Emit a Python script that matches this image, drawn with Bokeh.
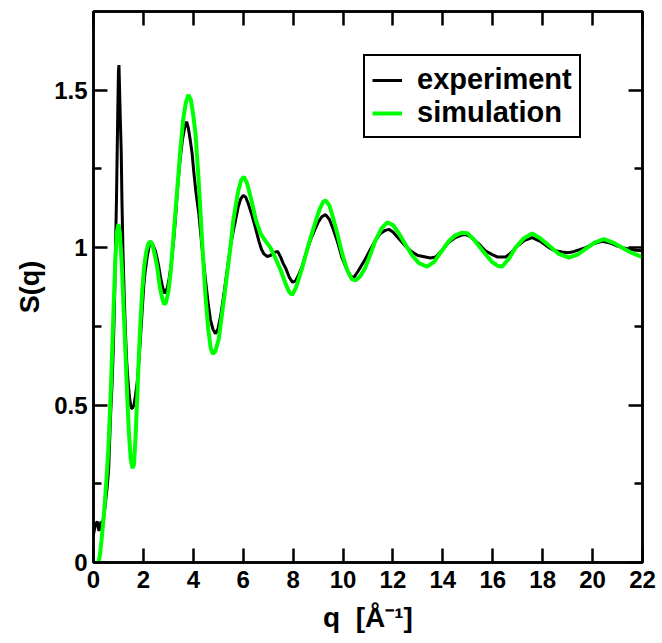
from bokeh.plotting import figure
from bokeh.models import (LinearAxis, FixedTicker, Legend, LegendItem,
                          CustomJSTickFormatter, Range1d)
from bokeh.embed import file_html
from bokeh.resources import INLINE

# ---------------- data ----------------
exp_q = [0.00, 0.08, 0.15, 0.22, 0.30, 0.35, 0.42, 0.48, 0.55, 0.61, 0.68, 0.74,
         0.79, 0.84, 0.88, 0.92, 0.95, 0.98, 1.00, 1.02, 1.04, 1.07, 1.11, 1.14,
         1.18, 1.23, 1.28, 1.33, 1.39, 1.45, 1.51, 1.56, 1.62, 1.68, 1.75, 1.82,
         1.88, 1.95, 2.02, 2.08, 2.15, 2.23, 2.31, 2.40, 2.48, 2.55, 2.62, 2.70,
         2.77, 2.85, 2.95, 3.02, 3.12, 3.22, 3.30, 3.38, 3.47, 3.56, 3.65, 3.73,
         3.80, 3.88, 3.95, 4.02, 4.10, 4.22, 4.35, 4.49, 4.60, 4.69, 4.79, 4.89,
         4.98, 5.09, 5.22, 5.36, 5.50, 5.62, 5.69, 5.80, 5.90, 6.00, 6.10, 6.20,
         6.36, 6.50, 6.63, 6.73, 6.83, 6.95, 7.09, 7.25, 7.38, 7.50, 7.60, 7.70,
         7.85, 7.98, 8.10, 8.20, 8.36, 8.55, 8.70, 8.83, 9.00, 9.15, 9.30, 9.45,
         9.60, 9.77, 9.95, 10.17, 10.30, 10.43, 10.60, 10.75, 10.90, 11.10, 11.30,
         11.50, 11.70, 11.84, 12.00, 12.24, 12.50, 12.77, 13.00, 13.31, 13.50,
         13.71, 13.95, 14.24, 14.50, 14.75, 14.90, 15.10, 15.44, 15.70, 15.98,
         16.20, 16.51, 16.75, 16.91, 17.25, 17.58, 17.90, 18.25, 18.50, 18.78,
         19.00, 19.18, 19.45, 19.72, 20.05, 20.39, 20.70, 21.00, 21.19, 21.50,
         21.75, 22.00]
exp_s = [0.09, 0.12, 0.13, 0.10, 0.13, 0.12, 0.15, 0.19, 0.24, 0.30, 0.46, 0.56,
         0.67, 0.82, 0.99, 1.15, 1.31, 1.47, 1.56, 1.58, 1.52, 1.42, 1.31, 1.15,
         0.99, 0.85, 0.73, 0.64, 0.57, 0.52, 0.49, 0.49, 0.50, 0.53, 0.57, 0.64,
         0.71, 0.80, 0.885, 0.93, 0.97, 1.005, 1.017, 1.005, 0.99, 0.965, 0.938, 0.90,
         0.875, 0.855, 0.87, 0.896, 0.95, 1.03, 1.11, 1.20, 1.28, 1.34, 1.38, 1.40,
         1.38, 1.34, 1.30, 1.24, 1.18, 1.108, 1.00, 0.896, 0.82, 0.77, 0.74, 0.727,
         0.74, 0.78, 0.85, 0.93, 1.01, 1.06, 1.086, 1.13, 1.155, 1.166, 1.16, 1.14,
         1.10, 1.06, 1.02, 0.995, 0.98, 0.972, 0.975, 0.985, 0.988, 0.97, 0.95, 0.935,
         0.905, 0.89, 0.895, 0.91, 0.94, 0.99, 1.025, 1.05, 1.08, 1.098, 1.105, 1.09,
         1.06, 1.02, 0.97, 0.928, 0.91, 0.905, 0.925, 0.945, 0.965, 0.995, 1.023,
         1.045, 1.055, 1.058, 1.05, 1.028, 1.005, 0.986, 0.975, 0.97, 0.967,
         0.97, 0.99, 1.017, 1.032, 1.04, 1.042, 1.035, 1.012, 0.99, 0.978,
         0.97, 0.97, 0.985, 1.0, 1.022, 1.032, 1.02, 1.0, 0.99, 0.986,
         0.984, 0.986, 0.993, 1.0, 1.013, 1.02, 1.015, 1.005, 1.0, 0.995,
         0.992, 0.99]

sim_q = [0.20, 0.25, 0.32, 0.41, 0.48, 0.55, 0.60, 0.65, 0.70, 0.75, 0.81, 0.88,
         0.94, 1.00, 1.05, 1.10, 1.15, 1.21, 1.28, 1.35, 1.42, 1.49, 1.56, 1.62,
         1.68, 1.75, 1.82, 1.88, 1.95, 2.03, 2.12, 2.20, 2.28, 2.36, 2.45, 2.55,
         2.65, 2.75, 2.83, 2.90, 3.00, 3.09, 3.20, 3.29, 3.39, 3.49, 3.60, 3.70,
         3.80, 3.90, 4.00, 4.09, 4.20, 4.29, 4.39, 4.49, 4.60, 4.70, 4.78, 4.88,
         5.02, 5.15, 5.25, 5.36, 5.50, 5.60, 5.69, 5.80, 5.92, 6.03, 6.15, 6.25,
         6.36, 6.50, 6.69, 6.90, 7.09, 7.30, 7.50, 7.70, 7.85, 7.96, 8.10, 8.22,
         8.36, 8.60, 8.83, 9.05, 9.20, 9.30, 9.45, 9.60, 9.77, 9.95, 10.17, 10.35,
         10.50, 10.70, 10.90, 11.10, 11.30, 11.55, 11.77, 12.00, 12.24, 12.50, 12.77,
         13.05, 13.37, 13.65, 13.97, 14.25, 14.50, 14.75, 14.98, 15.25, 15.50, 15.75,
         15.98, 16.20, 16.38, 16.65, 16.91, 17.25, 17.58, 17.90, 18.25, 18.65, 19.05,
         19.40, 19.72, 20.10, 20.45, 20.80, 21.19, 21.55, 21.92, 22.00]
sim_s = [0.00, 0.02, 0.07, 0.144, 0.22, 0.30, 0.37, 0.46, 0.56, 0.673, 0.82, 0.97,
         1.05, 1.075, 1.05, 0.99, 0.92, 0.80, 0.67, 0.53, 0.41, 0.33, 0.30, 0.31,
         0.39, 0.52, 0.66, 0.76, 0.86, 0.94, 0.99, 1.012, 1.02, 1.01, 0.98, 0.94,
         0.88, 0.84, 0.82, 0.825, 0.86, 0.92, 1.03, 1.12, 1.22, 1.32, 1.41, 1.46,
         1.485, 1.47, 1.42, 1.36, 1.23, 1.108, 0.97, 0.843, 0.74, 0.68, 0.663, 0.67,
         0.71, 0.79, 0.85, 0.92, 1.01, 1.085, 1.129, 1.18, 1.215, 1.225, 1.205, 1.175,
         1.14, 1.09, 1.045, 1.02, 1.0, 0.965, 0.928, 0.885, 0.858, 0.85, 0.87, 0.90,
         0.935, 1.005, 1.065, 1.12, 1.145, 1.15, 1.135, 1.095, 1.045, 0.985, 0.928, 0.90,
         0.896, 0.91, 0.938, 0.98, 1.023, 1.062, 1.08, 1.072, 1.045, 1.01, 0.975,
         0.95, 0.94, 0.955, 0.991, 1.022, 1.039, 1.047, 1.046, 1.025, 1.0, 0.975,
         0.954, 0.942, 0.94, 0.965, 1.0, 1.03, 1.045, 1.03, 1.007, 0.98, 0.968,
         0.978, 0.996, 1.017, 1.027, 1.017, 1.0, 0.984, 0.972, 0.971]

series_names = ["experiment", "simulation"]
x_ticks = [0, 2, 4, 6, 8, 10, 12, 14, 16, 18, 20, 22]
x_tick_labels = ["0", "2", "4", "6", "8", "10", "12", "14", "16", "18", "20", "22"]
y_ticks = [0, 0.5, 1, 1.5]
y_tick_labels = ["0", "0.5", "1", "1.5"]
y_minor_ticks = [0.25, 0.75, 1.25]
x_label = "q\u00a0\u00a0[Å⁻¹]"
y_label = "S(q)"

FONT = "Liberation Sans"

p = figure(width=658, height=638, output_backend="svg", toolbar_location=None,
           x_range=Range1d(0, 22), y_range=Range1d(0, 1.75),
           min_border_left=93, min_border_right=16, min_border_top=11,
           min_border_bottom=76)
p.background_fill_color = "white"
p.border_fill_color = "white"
p.outline_line_color = "black"
p.outline_line_width = 2.5
p.xgrid.visible = False
p.ygrid.visible = False

r_exp = p.line(exp_q, exp_s, line_color="black", line_width=3)
r_sim = p.line(sim_q, sim_s, line_color="#00ff00", line_width=4)

xt = FixedTicker(ticks=x_ticks, minor_ticks=[])
yt = FixedTicker(ticks=y_ticks, minor_ticks=y_minor_ticks)


def style(ax, labels):
    ax.axis_line_color = "black"
    ax.axis_line_width = 2.5
    ax.major_tick_in = 14
    ax.major_tick_out = 0
    ax.minor_tick_in = 8
    ax.minor_tick_out = 0
    ax.major_tick_line_width = 2.5
    ax.minor_tick_line_width = 2.5
    ax.major_tick_line_color = "black"
    ax.minor_tick_line_color = "black"
    ax.major_label_text_font = FONT
    ax.major_label_text_font_style = "bold"
    ax.major_label_text_font_size = "24px"
    ax.major_label_text_color = "black"
    ax.axis_label_text_font = FONT
    ax.axis_label_text_font_style = "bold"
    ax.axis_label_text_font_size = "28px"
    ax.axis_label_text_color = "black"
    if not labels:
        ax.formatter = CustomJSTickFormatter(code="return ''")
        ax.major_label_standoff = 0


xa = p.xaxis[0]
xa.ticker = xt
xa.major_label_overrides = {t: l for t, l in zip(x_ticks, x_tick_labels)}
xa.axis_label = x_label
xa.major_label_standoff = 8
xa.axis_label_standoff = 11
style(xa, True)

ya = p.yaxis[0]
ya.ticker = yt
ya.major_label_overrides = {t: l for t, l in zip(y_ticks, y_tick_labels)}
ya.axis_label = y_label
ya.major_label_standoff = 6
ya.axis_label_standoff = 6
style(ya, True)
ya.axis_label_text_font_size = "27px"

top = LinearAxis(ticker=xt)
style(top, False)
p.add_layout(top, "above")
right = LinearAxis(ticker=yt)
style(right, False)
p.add_layout(right, "right")

legend = Legend(items=[LegendItem(label=series_names[0], renderers=[r_exp]),
                       LegendItem(label=series_names[1], renderers=[r_sim])],
                location=(270, 424))
legend.label_text_font = FONT
legend.label_text_font_style = "bold"
legend.label_text_font_size = "29px"
legend.label_text_color = "black"
legend.border_line_color = "black"
legend.border_line_alpha = 1
legend.border_line_width = 2
legend.background_fill_color = "white"
legend.background_fill_alpha = 1
legend.padding = 7
legend.spacing = 0
legend.margin = 0
legend.glyph_width = 30
legend.label_standoff = 15
p.add_layout(legend, "center")

open("out.html", "w").write(file_html(p, INLINE))
